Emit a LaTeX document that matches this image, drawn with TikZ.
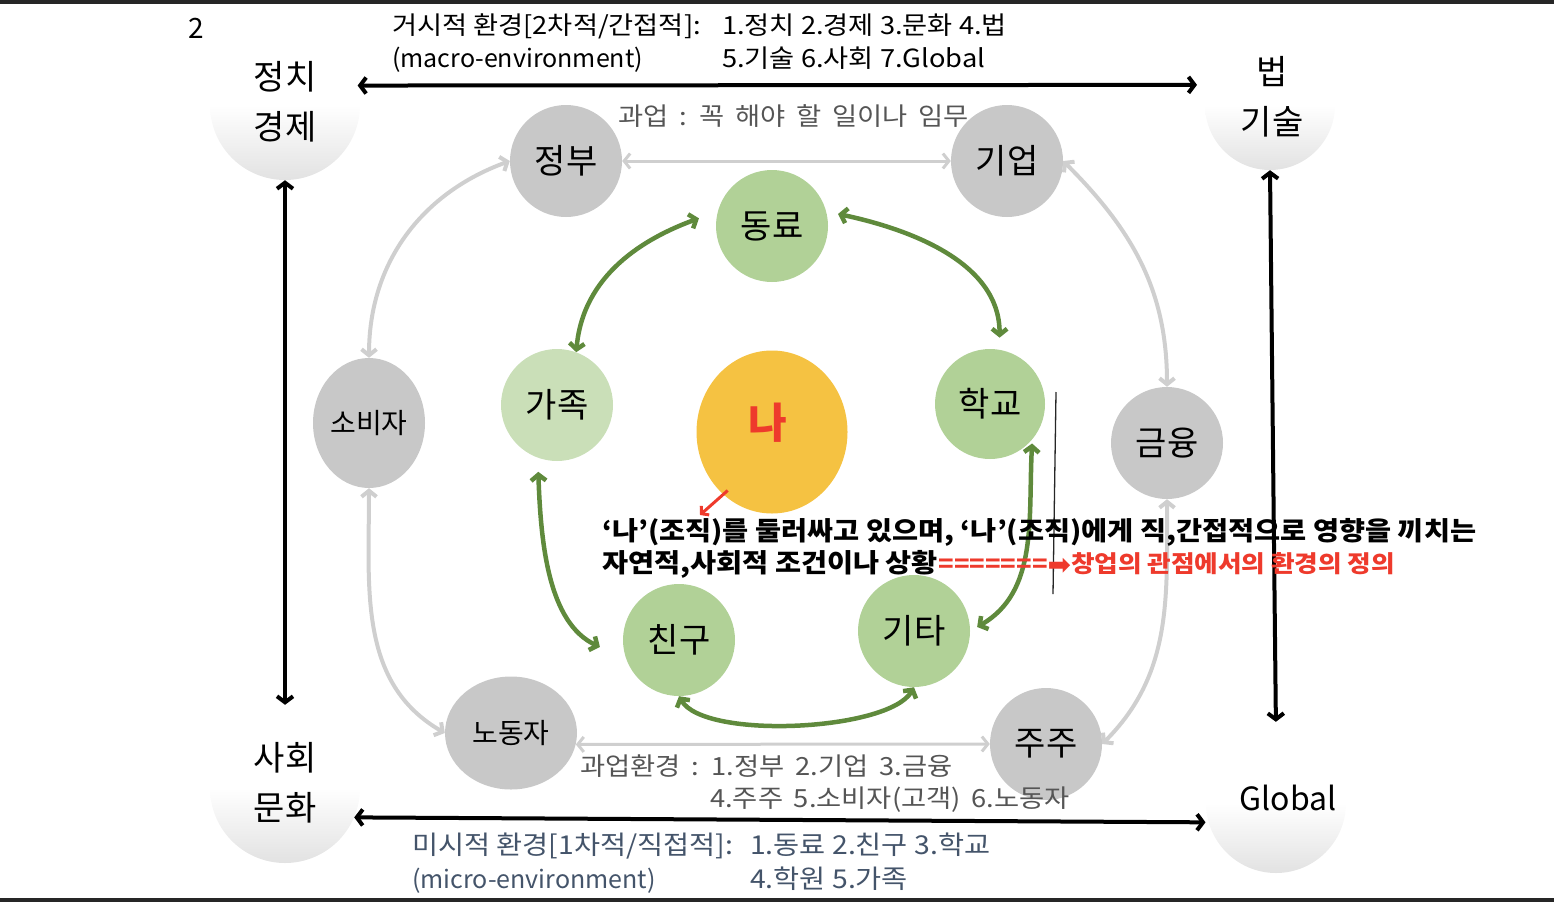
\documentclass[tikz,border=0pt]{standalone}
\usepackage{fontspec}
\setmainfont{Noto Sans CJK KR}
\newfontfamily\krw{Noto Sans CJK KR}[FakeStretch=1.09]
\newfontfamily\krt{Noto Sans CJK KR}[FakeStretch=1.093, WordSpace=1.75]
\newfontfamily\dvsans{DejaVu Sans}
\usetikzlibrary{arrows.meta,shapes.geometric}
\definecolor{barc}{HTML}{262626}
\definecolor{gcirc}{HTML}{C8C8C8}
\definecolor{gline}{HTML}{CFCFCF}
\definecolor{grcirc}{HTML}{B1D197}
\definecolor{famc}{HTML}{CADFB8}
\definecolor{grline}{HTML}{5F8A3C}
\definecolor{mec}{HTML}{F5C242}
\definecolor{redc}{HTML}{EE3A2C}
\definecolor{taskc}{HTML}{555555}
\definecolor{microc}{HTML}{44546A}
\definecolor{cornerg}{HTML}{E2E2E2}
\begin{document}
\begin{tikzpicture}[x=1pt,y=1pt,
  gc/.style={circle, fill=gcirc, minimum size=112pt, inner sep=0pt, font=\fontsize{34}{38}\selectfont},
  grc/.style={circle, fill=grcirc, minimum size=112pt, inner sep=0pt, font=\fontsize{34}{38}\selectfont},
  cornerc/.style={circle, minimum size=#1, inner sep=0pt, top color=white, bottom color=cornerg, middle color=white},
  ctext/.style={align=center, inner sep=0pt, font=\fontsize{34}{50}\selectfont},
  garrow/.style={draw=gline, line width=4pt, >={Straight Barb[length=6pt,width=15pt]}, <->},
  grarrow/.style={draw=grline, line width=4.5pt, >={Straight Barb[length=6pt,width=15pt]}, <->},
  barrow/.style={draw=black, line width=4pt, >={Straight Barb[length=6pt,width=16pt]}, <->},
  txt/.style={anchor=base west, inner sep=0pt, font=\krw\fontsize{25}{30}\selectfont},
  latxt/.style={anchor=base west, inner sep=0pt, font=\fontsize{25}{30}\selectfont},
  tasktxt/.style={anchor=base west, inner sep=0pt, text=taskc, font=\krt\fontsize{25}{30}\selectfont},
  microtxt/.style={anchor=base west, inner sep=0pt, text=microc, font=\krw\fontsize{26}{30}\selectfont},
  boldtxt/.style={anchor=base west, inner sep=0pt, font=\krw\bfseries\fontsize{26}{30}\selectfont},
]
\useasboundingbox (0,0) rectangle (1554,-902);
\fill[barc] (0,0) rectangle (1554,-4);
\fill[barc] (0,-898) rectangle (1554,-902);

% corner circles
\node[cornerc=150pt] (pe) at (285,-105) {};
\node[cornerc=130pt] (lt) at (1270,-105) {};
\node[cornerc=150pt] (sc) at (285,-788) {};
\node[cornerc=140pt] (gl) at (1276,-803) {};
\node[ctext] (pet) at (285,-102) {정치\\경제};
\node[ctext] (ltt) at (1272,-97) {법\\기술};
\node[ctext] (sct) at (285,-783) {사회\\문화};
\node[ctext, font=\fontsize{32}{36}\selectfont] (glt) at (1288,-798) {Global};

% page number
\node[anchor=base, inner sep=0pt, font=\fontsize{28}{30}\selectfont] (pg) at (196,-38) {2};

% task environment (gray)
\node[gc] (gov) at (566,-161) {정부};
\node[gc] (firm) at (1007,-161) {기업};
\node[gc, ellipse, minimum width=112pt, minimum height=130pt, font=\fontsize{28}{30}\selectfont] (cons) at (369,-423) {소비자};
\node[gc] (fin) at (1167,-443) {금융};
\node[gc, ellipse, minimum width=132pt, minimum height=113pt, font=\fontsize{28}{30}\selectfont] (lab) at (511,-733) {노동자};
\node[gc] (sh) at (1046,-744) {주주};

% micro environment (green)
\node[grc] (col) at (772,-226) {동료};
\node[grc, fill=famc] (fam) at (557,-405) {가족};
\node[grc, minimum size=110pt] (sch) at (990,-404) {학교};
\node[grc] (fri) at (679,-640) {친구};
\node[grc] (oth) at (914,-631) {기타};

% me
\node[ellipse, fill=mec, minimum width=151pt, minimum height=163pt, inner sep=0pt] (me) at (772,-432) {};
\node[inner sep=0pt, text=redc, font=\bfseries\fontsize{42}{42}\selectfont] (met) at (768,-423) {나};

% gray connectors
\draw[garrow, line width=3pt] (gov.east) -- (firm.west);
\draw[garrow] (cons.north) to[out=90,in=200] (gov.west);
\draw[garrow] (firm.east) to[out=-45,in=90] (fin.north);
\draw[garrow] (cons.south) to[out=-90,in=150] (lab.west);
\draw[garrow, line width=3pt] (lab.-10) -- (sh.west);
\draw[garrow] (sh.east) to[out=45,in=-90] (fin.south);

% green connectors
\draw[grarrow, shorten >=20pt] (fam.70) to[out=85,in=200] (col.165);
\draw[grarrow, shorten <=12pt, shorten >=12pt] (col.15) to[out=-12,in=90] (sch.80);
\draw[grarrow, shorten <=14pt, shorten >=29pt] (fam.-110) to[out=-88,in=155] (fri.200);
\draw[grarrow, shorten <=4pt, shorten >=8pt] (sch.-40) to[out=-93,in=30] (oth.east);
\draw[grarrow] (fri.south) to[out=-60,in=-120,looseness=0.55] (oth.south);

% black connectors
\draw[barrow, shorten >=11pt] (pe.15) -- (lt.162);
\draw[barrow, shorten >=8pt] (pe.south) -- (sc.north);
\draw[barrow, shorten >=11pt] (lt.south) -- (gl.north);
\draw[barrow, shorten >=3pt] (sc.-23) -- (gl.196);

% red arrow
\coordinate (rtip) at (700,-515);
\draw[redc, line width=3pt, shorten <=-6pt, -{Straight Barb[length=5pt,width=12pt]}] (me.232) -- (rtip);

% thin vertical line
\coordinate (vla) at (1056,-392);
\coordinate (vlb) at (1053,-594);
\draw[line width=1.3pt, black!85] (vla) -- (vlb);

% macro text
\node[txt] (t1a) at (392,-34) {거시적 환경[2차적/간접적]:};
\node[txt] (t1b) at (722,-34) {1.정치 2.경제 3.문화 4.법};
\node[latxt] (t2a) at (392,-67) {(macro-environment)};
\node[txt] (t2b) at (722,-67) {5.기술 6.사회 7.Global};

% task text
\node[tasktxt] (k1) at (618,-125) {과업 : 꼭 해야 할 일이나 임무};
\node[tasktxt] (k2) at (580,-775) {과업환경 : 1.정부 2.기업 3.금융};
\node[tasktxt] (k3) at (710,-807) {4.주주 5.소비자(고객) 6.노동자};

% micro text
\node[microtxt] (m1a) at (412,-854) {미시적 환경[1차적/직접적]:};
\node[microtxt] (m1b) at (750,-854) {1.동료 2.친구 3.학교};
\node[latxt, text=microc] (m2a) at (412,-888) {(micro-environment)};
\node[microtxt] (m2b) at (750,-888) {4.학원 5.가족};

% definition text
\node[boldtxt] (d1) at (602,-540) {‘나’(조직)를 둘러싸고 있으며, ‘나’(조직)에게 직,간접적으로 영향을 끼치는};
\node[boldtxt] (d2) at (602,-572) {자연적,사회적 조건이나 상황};
\node[boldtxt, text=redc, font=\krw\bfseries\fontsize{23.5}{26}\selectfont] (d3) at (d2.base east) {=======\raisebox{-2pt}{\dvsans\fontsize{28}{28}\selectfont ➡}창업의 관점에서의 환경의 정의};
\end{tikzpicture}
\end{document}
